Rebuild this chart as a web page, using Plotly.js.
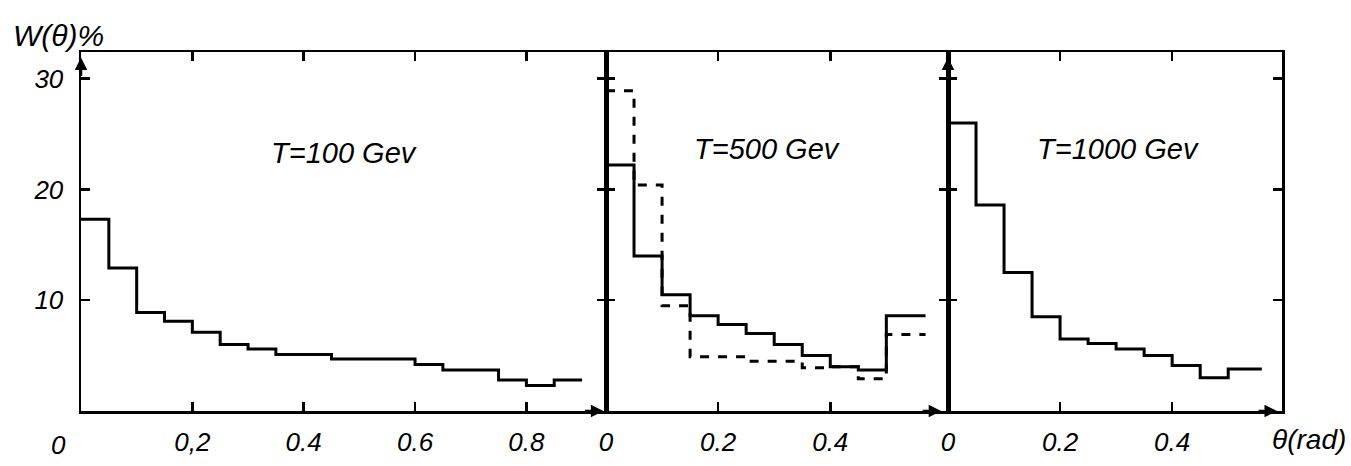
<!DOCTYPE html>
<html>
<head>
<meta charset="utf-8">
<script src="https://cdn.plot.ly/plotly-3.0.1.min.js"></script>
<style>html,body{margin:0;padding:0;background:#fff;}#chart{width:1351px;height:466px;}</style>
</head>
<body>
<div id="chart"></div>
<script>
// ---- Data ----
const edges100 = [0, 0.05, 0.10, 0.15, 0.20, 0.25, 0.30, 0.35, 0.40, 0.45, 0.50, 0.55, 0.60, 0.65, 0.70, 0.75, 0.80, 0.85, 0.90];
const w100     = [17.3, 12.9, 8.9, 8.1, 7.1, 6.0, 5.6, 5.1, 5.1, 4.7, 4.7, 4.7, 4.2, 3.7, 3.7, 2.8, 2.3, 2.8];

const edges500      = [0, 0.05, 0.10, 0.15, 0.20, 0.25, 0.30, 0.35, 0.40, 0.45, 0.50, 0.57];
const w500solid     = [22.2, 14.0, 10.5, 8.6, 7.8, 7.0, 6.0, 5.0, 4.0, 3.7, 8.6];
const w500dashed    = [28.9, 20.4, 9.5, 4.9, 4.9, 4.5, 4.5, 3.9, 4.0, 2.9, 6.9];

const edges1000 = [0, 0.05, 0.10, 0.15, 0.20, 0.25, 0.30, 0.35, 0.40, 0.45, 0.50, 0.56];
const w1000     = [26.0, 18.6, 12.5, 8.5, 6.5, 6.1, 5.6, 5.0, 4.1, 3.0, 3.8];

const panelLabels = ["T=100 Gev", "T=500 Gev", "T=1000 Gev"];
const yTickVals = [10, 20, 30];
const yTickText = ["10", "20", "30"];
const xTickVals100 = [0.2, 0.4, 0.6, 0.8];
const xTickText100 = ["0,2", "0.4", "0.6", "0.8"];
const xTickValsHi = [0, 0.2, 0.4];
const xTickTextHi = ["0", "0.2", "0.4"];
const originLabel = "0";
const yTitle = "W(θ)%";
const xTitle = "θ(rad)";

// ---- helpers ----
function stepY(vals){ return vals.concat([vals[vals.length-1]]); }
const FONT = "Liberation Sans, DejaVu Sans, sans-serif";
const tickFont = {family: FONT, size: 26, color: "#000", style: "italic"};
const labelFont = {family: FONT, size: 29, color: "#000", style: "italic"};

function stepTrace(edges, vals, xa, ya, dash){
  return {x: edges, y: stepY(vals), xaxis: xa, yaxis: ya, type: "scatter", mode: "lines",
          line: {shape: "hv", color: "#000", width: 3, dash: dash || "solid"},
          hoverinfo: "skip", showlegend: false, cliponaxis: false};
}

const traces = [
  stepTrace(edges100, w100, "x", "y"),
  stepTrace(edges500, w500dashed, "x2", "y2", "dash"),
  stepTrace(edges500, w500solid, "x2", "y2"),
  stepTrace(edges1000, w1000, "x3", "y3")
];

const axBase = {showline: true, linecolor: "#000", linewidth: 2.5, mirror: "ticks",
                ticks: "inside", ticklen: 9, tickwidth: 2.5, tickcolor: "#000",
                showgrid: false, zeroline: false, tickfont: tickFont, fixedrange: true};
const d1 = (606-81)/1201, d2 = (948-81)/1201;
const yRange = [0, 32.4];

const layout = {
  width: 1351, height: 466,
  margin: {l: 81, r: 69, t: 52, b: 55},
  paper_bgcolor: "#fff", plot_bgcolor: "#fff",
  showlegend: false,
  xaxis:  Object.assign({}, axBase, {domain: [0, d1], range: [0, 0.943], anchor: "y",
          tickvals: xTickVals100, ticktext: xTickText100, ticklabelstandoff: 6}),
  xaxis2: Object.assign({}, axBase, {domain: [d1, d2], range: [0, 0.61], anchor: "y2",
          tickvals: xTickValsHi, ticktext: xTickTextHi, ticklabelstandoff: 6}),
  xaxis3: Object.assign({}, axBase, {domain: [d2, 1], range: [0, 0.596], anchor: "y3",
          tickvals: xTickValsHi, ticktext: xTickTextHi, ticklabelstandoff: 6}),
  yaxis:  Object.assign({}, axBase, {domain: [0, 1], range: yRange, anchor: "x",
          tickvals: yTickVals, ticktext: yTickText, ticklabelstandoff: 10}),
  yaxis2: Object.assign({}, axBase, {domain: [0, 1], range: yRange, anchor: "x2",
          tickvals: yTickVals, showticklabels: false}),
  yaxis3: Object.assign({}, axBase, {domain: [0, 1], range: yRange, anchor: "x3",
          tickvals: yTickVals, showticklabels: false}),
  annotations: [
    {text: panelLabels[0], xref: "x domain", yref: "y domain", x: 0.50, y: 0.77, showarrow: false, font: labelFont},
    {text: panelLabels[1], xref: "x2 domain", yref: "y2 domain", x: 0.47, y: 0.78, showarrow: false, font: labelFont},
    {text: panelLabels[2], xref: "x3 domain", yref: "y3 domain", x: 0.51, y: 0.78, showarrow: false, font: labelFont},
    {text: originLabel, xref: "paper", yref: "paper", x: -0.019, y: -0.095, showarrow: false,
     xanchor: "center", yanchor: "middle", font: tickFont},
    {text: yTitle, xref: "paper", yref: "paper", x: -0.058, y: 1.045, xanchor: "left", yanchor: "middle",
     showarrow: false, font: {family: FONT, size: 30, color: "#000", style: "italic"}},
    {text: xTitle, xref: "paper", yref: "paper", x: 1.055, y: -0.08, xanchor: "right", yanchor: "middle",
     showarrow: false, font: {family: FONT, size: 28, color: "#000", style: "italic"}},
    // axis arrowheads
    {text: "", xref: "x domain", yref: "y domain", x: 0.995, y: 0, ax: -20, ay: 0, showarrow: true,
     arrowhead: 2, arrowsize: 1, arrowwidth: 2.5, arrowcolor: "#000"},
    {text: "", xref: "x2 domain", yref: "y2 domain", x: 0.98, y: 0, ax: -20, ay: 0, showarrow: true,
     arrowhead: 2, arrowsize: 1, arrowwidth: 2.5, arrowcolor: "#000"},
    {text: "", xref: "x3 domain", yref: "y3 domain", x: 0.985, y: 0, ax: -20, ay: 0, showarrow: true,
     arrowhead: 2, arrowsize: 1, arrowwidth: 2.5, arrowcolor: "#000"},
    {text: "", xref: "x3 domain", yref: "y3 domain", x: 0, y: 0.985, ax: 0, ay: 20, showarrow: true,
     arrowhead: 2, arrowsize: 1, arrowwidth: 2.5, arrowcolor: "#000"},
    {text: "", xref: "x domain", yref: "y domain", x: 0, y: 0.985, ax: 0, ay: 20, showarrow: true,
     arrowhead: 2, arrowsize: 1, arrowwidth: 2.5, arrowcolor: "#000"}
  ]
};

Plotly.newPlot("chart", traces, layout, {staticPlot: true, displayModeBar: false});
</script>
</body>
</html>
